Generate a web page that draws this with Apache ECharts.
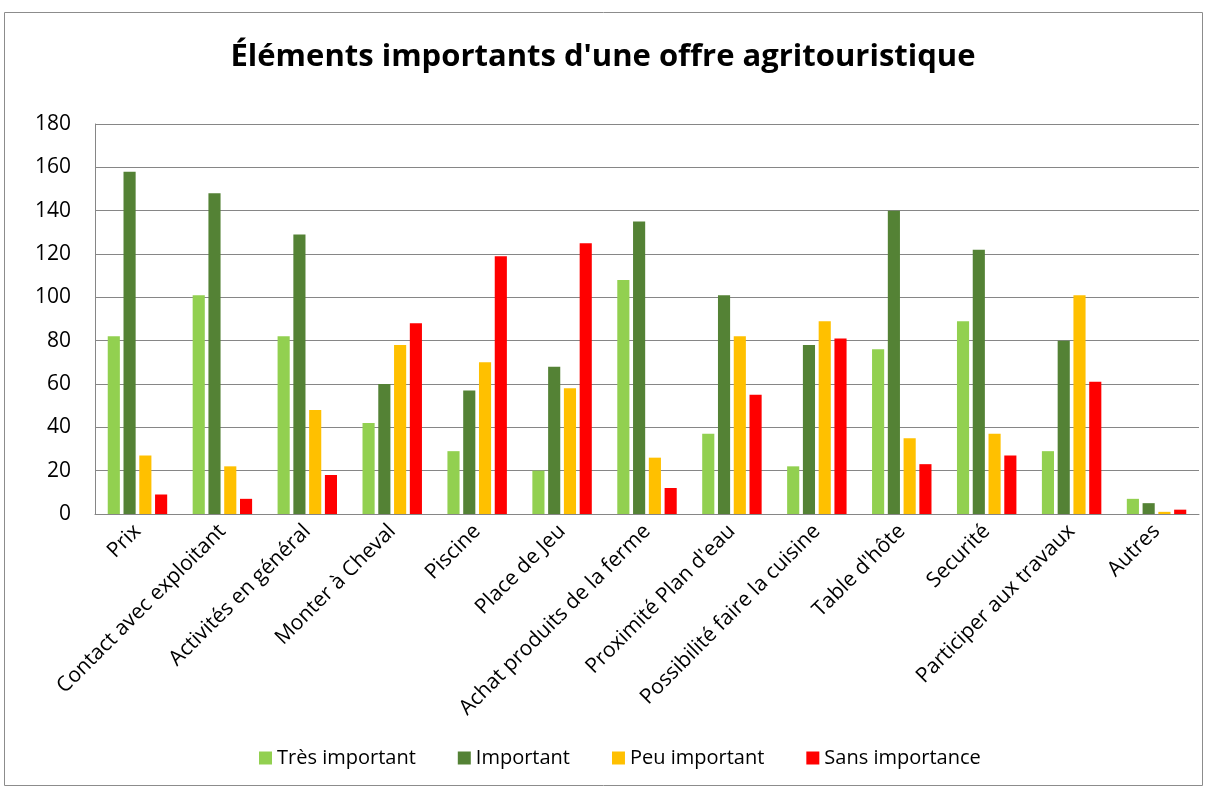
<!DOCTYPE html>
<html>
<head>
<meta charset="utf-8">
<script src="https://cdn.jsdelivr.net/npm/echarts@6/dist/echarts.min.js"></script>
<style>
  html, body { margin: 0; padding: 0; background: #fff; }
  #chart { width: 1206px; height: 789px; }
</style>
</head>
<body>
<div id="chart"></div>
<script>
const categories = [
  "Prix", "Contact avec exploitant", "Activités en général", "Monter à Cheval",
  "Piscine", "Place de Jeu", "Achat produits de la ferme", "Proximité Plan d'eau",
  "Possibilité faire la cuisine", "Table d'hôte", "Securité",
  "Participer aux travaux", "Autres"
];
const tresImportant = [82, 101, 82, 42, 29, 20, 108, 37, 22, 76, 89, 29, 7];
const important = [158, 148, 129, 60, 57, 68, 135, 101, 78, 140, 122, 80, 5];
const peuImportant = [27, 22, 48, 78, 70, 58, 26, 82, 89, 35, 37, 101, 1];
const sansImportance = [9, 7, 18, 88, 119, 125, 12, 55, 81, 23, 27, 61, 2];

const font = "'Open Sans', 'Noto Sans', sans-serif";
const chart = echarts.init(document.getElementById("chart"));

function bar(name, data, color) {
  return {
    name: name,
    type: "bar",
    data: data,
    barGap: "30%",
    barCategoryGap: "30%",
    itemStyle: { color: color },
  };
}

const option = {
  animation: false,
  textStyle: { fontFamily: font },
  title: {
    text: "Éléments importants d'une offre agritouristique",
    left: "center",
    top: 37,
    textStyle: { fontSize: 31, fontWeight: "bold", color: "#000", fontFamily: font },
  },
  graphic: [
    {
      type: "rect",
      shape: { x: 4.5, y: 12.5, width: 1198, height: 773 },
      style: { fill: "none", stroke: "#8c8c8c", lineWidth: 1 },
      silent: true,
    },
  ],
  legend: {
    bottom: 16,
    left: 254,
    itemWidth: 13,
    itemHeight: 13,
    itemGap: 42,
    icon: "rect",
    textStyle: { fontSize: 20, color: "#000", fontFamily: font },
    data: ["Très important", "Important", "Peu important", "Sans importance"],
  },
  grid: { left: 95, right: 7, top: 124, bottom: 275 },
  xAxis: {
    type: "category",
    data: categories,
    axisLine: { lineStyle: { color: "#868686" } },
    axisTick: { show: false },
    axisLabel: {
      rotate: 45,
      interval: 0,
      fontSize: 21,
      color: "#000",
      fontFamily: font,
      margin: 14,
    },
  },
  yAxis: {
    type: "value",
    min: 0,
    max: 180,
    interval: 20,
    axisLine: { show: true, lineStyle: { color: "#868686" } },
    axisTick: { show: false },
    splitLine: { lineStyle: { color: "#868686", width: 1 } },
    axisLabel: { fontSize: 21, color: "#000", margin: 24, fontFamily: font },
  },
  series: [
    bar("Très important", tresImportant, "#92d050"),
    bar("Important", important, "#548235"),
    bar("Peu important", peuImportant, "#ffc000"),
    bar("Sans importance", sansImportance, "#ff0000"),
  ],
};
chart.setOption(option);
</script>
</body>
</html>
